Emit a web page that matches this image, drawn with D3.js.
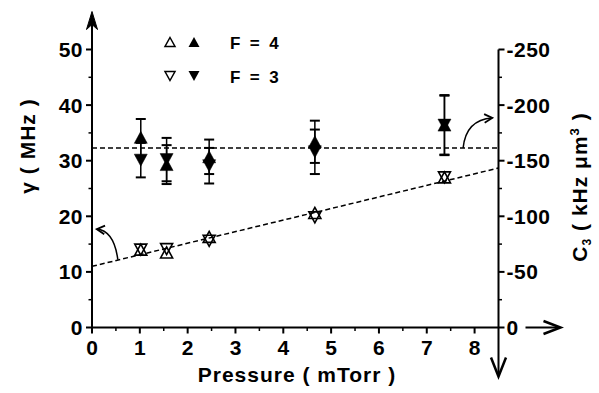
<!DOCTYPE html>
<html>
<head>
<meta charset="utf-8">
<script src="https://cdn.jsdelivr.net/npm/d3@7"></script>
<style>
  html, body { margin: 0; padding: 0; background: #fff; }
  svg { display: block; }
  text { font-family: "Liberation Sans", Arial, sans-serif; font-weight: bold; fill: #000; }
</style>
</head>
<body>
<svg id="chart" width="599" height="393"></svg>
<script>
// ---- data ----
const pressure   = [1.02, 1.56, 2.45, 4.66, 7.37];
const f4Open     = [14.0, 13.5, 16.3, 20.6, 27.0];
const f3Open     = [14.0, 14.1, 15.6, 19.8, 27.0];
const f4Filled   = [34.2, 29.3, 30.7, 33.4, 36.4];
const f4Err      = [3.3, 3.5, 3.1, 3.8, 5.4];
const f3Filled   = [30.1, 30.2, 29.1, 31.6, 36.4];
const f3Err      = [3.1, 3.9, 3.2, 4.0, 5.3];
const flatFit    = 32.3;              // horizontal fit (MHz)
const linearFit  = [11.0, 2.08];      // intercept, slope
const leftTicks  = [0, 10, 20, 30, 40, 50];
const rightTicks = [0, -50, -100, -150, -200, -250];
const xTicks     = [0, 1, 2, 3, 4, 5, 6, 7, 8];
const legendRows = [
  { label: "F  =  4", up: true },
  { label: "F  =  3", up: false }
];
// curved annotation arrows in data units: [start, control, end]
const annotArrows = [
  [[0.54, 12.2], [0.46, 17.4], [0.10, 17.7]],
  [[7.76, 32.3], [7.82, 37.4], [8.37, 37.7]]
];

// ---- scales ----
const svg = d3.select("#chart");
const x = d3.scaleLinear().domain([0, 8.5]).range([92, 498.5]);
const y = d3.scaleLinear().domain([0, 50]).range([327.5, 49.5]);
const yR = d3.scaleLinear().domain([0, -250]).range([327.5, 49.5]);

const FS = 21;

function tri(up, w, h) {
  return up
    ? `M0,${-h/2}L${w/2},${h/2}L${-w/2},${h/2}Z`
    : `M0,${h/2}L${w/2},${-h/2}L${-w/2},${-h/2}Z`;
}

// ---- fit lines ----
svg.append("line")
  .attr("x1", x(0)).attr("x2", x(8.5))
  .attr("y1", y(flatFit)).attr("y2", y(flatFit))
  .attr("stroke", "#000").attr("stroke-width", 1.5).attr("stroke-dasharray", "5,3");
svg.append("line")
  .attr("x1", x(0)).attr("x2", x(8.5))
  .attr("y1", y(linearFit[0])).attr("y2", y(linearFit[0] + linearFit[1] * 8.5))
  .attr("stroke", "#000").attr("stroke-width", 1.5).attr("stroke-dasharray", "5,3");

// ---- annotation arrows ----
annotArrows.forEach(a => {
  const p = a.map(d => [x(d[0]), y(d[1])]);
  svg.append("path")
    .attr("d", `M${p[0][0]},${p[0][1]}Q${p[1][0]},${p[1][1]} ${p[2][0]},${p[2][1]}`)
    .attr("fill", "none").attr("stroke", "#000").attr("stroke-width", 1.5);
  const ang = Math.atan2(p[2][1] - p[1][1], p[2][0] - p[1][0]);
  const L = 9, sp = 0.5;
  const w1 = [p[2][0] - L * Math.cos(ang - sp), p[2][1] - L * Math.sin(ang - sp)];
  const w2 = [p[2][0] - L * Math.cos(ang + sp), p[2][1] - L * Math.sin(ang + sp)];
  svg.append("path")
    .attr("d", `M${w1[0]},${w1[1]}L${p[2][0]},${p[2][1]}L${w2[0]},${w2[1]}`)
    .attr("fill", "none").attr("stroke", "#000").attr("stroke-width", 1.8);
});

// ---- error bars ----
function errorBars(vals, errs) {
  const g = svg.append("g").attr("stroke", "#000");
  pressure.forEach((p, i) => {
    const cx = x(p);
    g.append("line").attr("x1", cx).attr("x2", cx)
      .attr("y1", y(vals[i] + errs[i])).attr("y2", y(vals[i] - errs[i]))
      .attr("stroke-width", 1.5);
    [vals[i] + errs[i], vals[i] - errs[i]].forEach(v => {
      g.append("line").attr("x1", cx - 5).attr("x2", cx + 5)
        .attr("y1", y(v)).attr("y2", y(v)).attr("stroke-width", 2);
    });
  });
}
errorBars(f4Filled, f4Err);
errorBars(f3Filled, f3Err);

// ---- markers ----
function markers(vals, up, filled) {
  svg.append("g").selectAll("path").data(vals).join("path")
    .attr("transform", (d, i) => `translate(${x(pressure[i])},${y(d)})`)
    .attr("d", filled ? tri(up, 13, 12) : tri(up, 12, 11))
    .attr("fill", filled ? "#000" : "none")
    .attr("stroke", "#000")
    .attr("stroke-width", filled ? 0.5 : 1.6)
    .attr("stroke-linejoin", "miter");
}
markers(f4Open, true, false);
markers(f3Open, false, false);
markers(f4Filled, true, true);
markers(f3Filled, false, true);

// ---- axes ----
const axG = svg.append("g").attr("stroke", "#000");
// left axis line with arrow
axG.append("line").attr("x1", x(0)).attr("x2", x(0))
  .attr("y1", y(0)).attr("y2", y(50) - 30).attr("stroke-width", 2);
axG.append("path")
  .attr("d", `M${x(0)},${y(50) - 38}L${x(0) + 5.5},${y(50) - 20}L${x(0)},${y(50) - 25}L${x(0) - 5.5},${y(50) - 20}Z`)
  .attr("fill", "#000").attr("stroke-width", 1);
// x axis
axG.append("line").attr("x1", x(0)).attr("x2", x(8.5))
  .attr("y1", y(0)).attr("y2", y(0)).attr("stroke-width", 2);
// right axis with down arrow
axG.append("line").attr("x1", x(8.5)).attr("x2", x(8.5))
  .attr("y1", yR(-250)).attr("y2", y(0) + 48).attr("stroke-width", 2);
axG.append("path")
  .attr("d", `M${x(8.5) - 7.5},${y(0) + 30}L${x(8.5)},${y(0) + 49}L${x(8.5) + 7.5},${y(0) + 30}`)
  .attr("fill", "none").attr("stroke-width", 2.5);
// x arrow after right 0 label
axG.append("line").attr("x1", x(8.5) + 27).attr("x2", x(8.5) + 61)
  .attr("y1", y(0)).attr("y2", y(0)).attr("stroke-width", 2);
axG.append("path")
  .attr("d", `M${x(8.5) + 45},${y(0) - 6.5}L${x(8.5) + 62},${y(0)}L${x(8.5) + 45},${y(0) + 6.5}`)
  .attr("fill", "none").attr("stroke-width", 2.5);

// ticks
leftTicks.forEach(t => {
  axG.append("line").attr("x1", x(0) - 6).attr("x2", x(0)).attr("y1", y(t)).attr("y2", y(t)).attr("stroke-width", 2);
  if (t < 50) axG.append("line").attr("x1", x(0) - 3.5).attr("x2", x(0)).attr("y1", y(t + 5)).attr("y2", y(t + 5)).attr("stroke-width", 1.5);
});
rightTicks.forEach(t => {
  axG.append("line").attr("x1", x(8.5)).attr("x2", x(8.5) + 6).attr("y1", yR(t)).attr("y2", yR(t)).attr("stroke-width", 2);
  if (t > -250) axG.append("line").attr("x1", x(8.5)).attr("x2", x(8.5) + 3.5).attr("y1", yR(t - 25)).attr("y2", yR(t - 25)).attr("stroke-width", 1.5);
});
xTicks.forEach(t => {
  axG.append("line").attr("x1", x(t)).attr("x2", x(t)).attr("y1", y(0)).attr("y2", y(0) + 6).attr("stroke-width", 2);
  if (t < 8) axG.append("line").attr("x1", x(t + 0.5)).attr("x2", x(t + 0.5)).attr("y1", y(0)).attr("y2", y(0) + 3.5).attr("stroke-width", 1.5);
});

// tick labels
svg.append("g").selectAll("text").data(leftTicks).join("text")
  .attr("x", x(0) - 9).attr("y", d => y(d) + 7.5)
  .attr("text-anchor", "end").attr("font-size", FS).attr("letter-spacing", 0.5)
  .text(d => d);
svg.append("g").selectAll("text").data(rightTicks).join("text")
  .attr("x", x(8.5) + 8).attr("y", d => yR(d) + 7.5)
  .attr("text-anchor", "start").attr("font-size", FS).attr("letter-spacing", 0.5)
  .text(d => d);
svg.append("g").selectAll("text").data(xTicks).join("text")
  .attr("x", d => x(d)).attr("y", y(0) + 27)
  .attr("text-anchor", "middle").attr("font-size", FS)
  .text(d => d);

// axis titles
svg.append("text").attr("x", 297).attr("y", 382)
  .attr("text-anchor", "middle").attr("font-size", FS).attr("letter-spacing", 1)
  .text("Pressure ( mTorr )");
svg.append("text").attr("transform", "translate(35,146) rotate(-90)")
  .attr("text-anchor", "middle").attr("font-size", FS).attr("letter-spacing", 1)
  .text("γ ( MHz )");
const rt = svg.append("text").attr("transform", "translate(587,187) rotate(-90)")
  .attr("text-anchor", "middle").attr("font-size", FS).attr("letter-spacing", 1);
rt.append("tspan").text("C");
rt.append("tspan").attr("font-size", 12).attr("dy", 4).text("3");
rt.append("tspan").attr("dy", -4).text(" ( kHz μm");
rt.append("tspan").attr("font-size", 13).attr("dy", -8).text("3");
rt.append("tspan").attr("dy", 8).text(" )");

// legend
legendRows.forEach((r, i) => {
  const cy = 42 + i * 34;
  svg.append("path").attr("transform", `translate(170,${cy})`)
    .attr("d", tri(r.up, 10, 9)).attr("fill", "none").attr("stroke", "#000").attr("stroke-width", 1.5);
  svg.append("path").attr("transform", `translate(194,${cy})`)
    .attr("d", tri(r.up, 11, 10)).attr("fill", "#000");
  svg.append("text").attr("x", 230).attr("y", cy + 7)
    .attr("font-size", 17).attr("xml:space", "preserve").style("white-space", "pre")
    .text(r.label);
});
</script>
</body>
</html>
